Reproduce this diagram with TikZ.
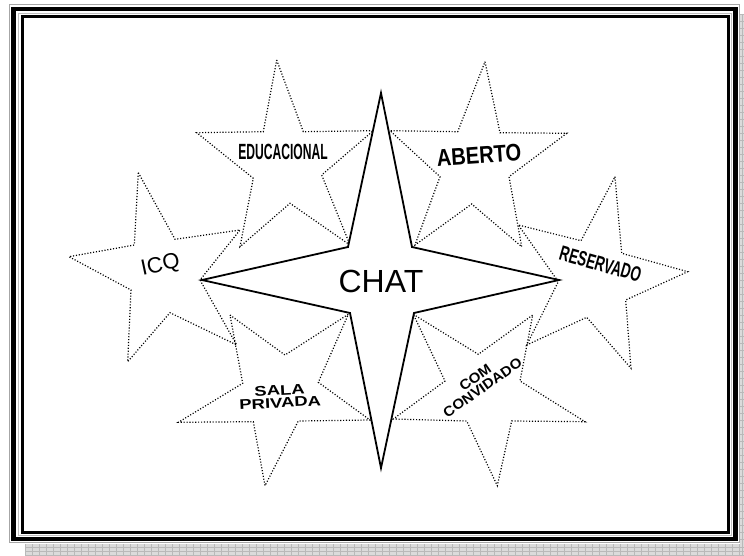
\documentclass[tikz,border=0pt]{standalone}
\usepackage{fontspec}
\setmainfont{Liberation Sans}
\usepackage{graphicx}
\tikzset{
  dotstar/.style={draw=black, line width=1.2pt, dash pattern=on 1.1pt off 1.8pt, line join=miter},
  mainstar/.style={draw=black, fill=white, line width=1.8pt, line join=miter},
  lbl/.style={inner sep=0pt, text=black}
}
\begin{document}
\begin{tikzpicture}[x=1pt,y=-1pt]
\useasboundingbox (0,0) rectangle (744,556);
\fill[white] (0,0) rectangle (744,556);
% shadow bands
\fill[gray!28] (25,544) rectangle (744,556);
\fill[gray!28] (739.8,14) rectangle (744,556);
\foreach \i in {25,32,...,744} \draw[gray!55,line width=0.4pt] (\i,544)--(\i,556);
\foreach \j in {547,551,555} \draw[gray!55,line width=0.4pt] (25,\j)--(744,\j);
\foreach \j in {14,21,...,544} \draw[gray!55,line width=0.4pt] (739.8,\j)--(744,\j);
\draw[gray!55,line width=0.4pt] (742,14)--(742,556);
% frame
\draw[gray!70, line width=0.9pt] (9.5,4.8) rectangle (739.3,542.3);
\draw[black, line width=4.5pt] (13.4,8.8) rectangle (735.6,538.8);
\draw[gray!50, line width=0.9pt] (18,13.2) rectangle (731.7,535);
\draw[black, line width=2.7pt] (22.6,16.8) rectangle (728.7,532.3);
% surrounding stars
\draw[dotstar] (138.3,172.7) -- (175,239.3) -- (240,230) -- (200,280) -- (236.7,345) -- (170,312.7) -- (127.7,361.7) -- (131,290) -- (69,256.7) -- (134.3,245) -- cycle;
\draw[dotstar] (276.7,60) -- (303.3,131.7) -- (373.3,130.7) -- (321.7,175) -- (350,245) -- (290,203.3) -- (240,246.7) -- (253.3,178.3) -- (196.7,132.7) -- (263.3,131.7) -- cycle;
\draw[dotstar] (485,61.7) -- (500,132.7) -- (566.7,133.3) -- (509,176.7) -- (521.7,246.7) -- (471.7,204) -- (415,245) -- (440,176.7) -- (390,130.7) -- (457.7,131.7) -- cycle;
\draw[dotstar] (615,176.7) -- (621.7,253.3) -- (687.7,271.7) -- (625.7,300) -- (631,368.3) -- (586.7,317.3) -- (526.7,345) -- (558.3,281.7) -- (518.3,225) -- (581,240.7) -- cycle;
\draw[dotstar] (230,315) -- (285,355) -- (348.3,314.3) -- (318.3,382.3) -- (370,420) -- (298.3,421) -- (265,485.7) -- (253.3,421.7) -- (178.3,422.3) -- (242.7,383.3) -- cycle;
\draw[dotstar] (413.3,314.3) -- (478.3,354.3) -- (532.7,315) -- (520,381) -- (585,421.7) -- (511.7,421) -- (497.3,485.7) -- (466.7,421) -- (393.3,419) -- (445,381) -- cycle;
% central star
\draw[mainstar] (381,93) -- (412,247) -- (559,280) -- (414,313) -- (381,468) -- (350,313) -- (202,280) -- (348,247) -- cycle;
% labels
\node[lbl] (chat) at (381,281) {\fontsize{32}{32}\selectfont CHAT};
\node[lbl] (educ) at (283,152) {\scalebox{0.55}[1]{\fontsize{22}{22}\selectfont\bfseries EDUCACIONAL}};
\node[lbl, rotate=4] (aberto) at (479,155) {\scalebox{0.84}[1]{\fontsize{24}{24}\selectfont\bfseries ABERTO}};
\node[lbl, rotate=-16] (reserv) at (600.5,264) {\scalebox{0.64}[1]{\fontsize{21}{21}\selectfont\bfseries RESERVADO}};
\node[lbl, rotate=12] (ica) at (160.5,266) {\fontsize{22}{22}\selectfont ICQ};
\node[lbl, rotate=3] (sala) at (280,398.5) {\scalebox{1.32}[1]{\fontsize{14}{13}\selectfont\bfseries\begin{tabular}{@{}c@{}}SALA\\[-1pt]PRIVADA\end{tabular}}};
\node[lbl, rotate=35] (com) at (480,384) {\scalebox{1.08}[1]{\fontsize{14}{13}\selectfont\bfseries\begin{tabular}{@{}c@{}}COM\\[-1pt]CONVIDADO\end{tabular}}};
\end{tikzpicture}
\end{document}
